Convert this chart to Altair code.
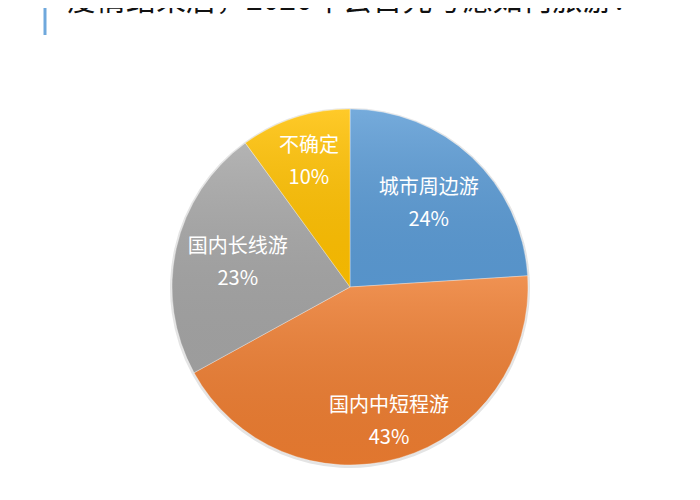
import altair as alt
import pandas as pd

title_text = "疫情结束后，2020年会首先考虑如何旅游?"
categories = ["城市周边游", "国内中短程游", "国内长线游", "不确定"]
values = [24, 43, 23, 10]
colors = ["#5B9BD5", "#ED7D31", "#A5A5A5", "#FFC000"]

df = pd.DataFrame({"cat": categories, "value": values, "idx": list(range(len(categories)))})

CX, CY, R = 342, 279, 178
FONT = "Noto Sans CJK SC"

theta_scale = alt.Scale(domain=[0, 100])

base = alt.Chart(df).transform_window(
    cum="sum(value)", sort=[alt.SortField("idx")]
).transform_calculate(
    start="datum.cum - datum.value",
    mid="datum.cum - datum.value / 2",
)

shadow = base.mark_arc(radius=R + 2, fill="#e4e4e4").encode(
    theta=alt.Theta("start:Q", scale=theta_scale), theta2="cum:Q",
    x=alt.value(CX), y=alt.value(CY + 1),
)

pie = base.mark_arc(radius=R, stroke="#ffffff", strokeWidth=0.6, strokeOpacity=0.6).encode(
    theta=alt.Theta("start:Q", scale=theta_scale), theta2="cum:Q",
    x=alt.value(CX), y=alt.value(CY),
    color=alt.Color("cat:N", scale=alt.Scale(domain=categories, range=colors), legend=None),
)

overlay = base.mark_arc(
    radius=R,
    fill={
        "gradient": "linear", "x1": 0, "y1": 0, "x2": 0, "y2": 1,
        "stops": [
            {"offset": 0, "color": "rgba(255,255,255,0.16)"},
            {"offset": 1, "color": "rgba(0,0,0,0.05)"},
        ],
    },
).encode(
    theta=alt.Theta("start:Q", scale=theta_scale), theta2="cum:Q",
    x=alt.value(CX), y=alt.value(CY),
)

labels = base.transform_calculate(
    label="datum.cat + '\\n' + datum.value + '%'",
    lr="datum.value >= 40 ? 140 : (datum.value <= 12 ? 133 : 115)",
).mark_text(
    font=FONT, fontSize=20, color="white", lineBreak="\n", lineHeight=32,
    align="center", baseline="middle", dy=-15,
).encode(
    theta=alt.Theta("mid:Q", scale=theta_scale),
    x=alt.value(CX), y=alt.value(CY),
    radius=alt.Radius("lr:Q", scale=None),
    text="label:N",
)

title_df = pd.DataFrame({"t": [title_text]})
title = alt.Chart(title_df).mark_text(
    font=FONT, fontSize=30, color="#111111", align="left", baseline="alphabetic"
).encode(x=alt.value(58), y=alt.value(2), text="t:N")

bar = alt.Chart(title_df).mark_rule(color="#6FA8DC", strokeWidth=3).encode(
    x=alt.value(37), y=alt.value(-10), y2=alt.value(27)
)

chart = alt.layer(shadow, pie, overlay, labels, title, bar).properties(
    width=684, height=484, padding=0, background="white",
    autosize=alt.AutoSizeParams(type="none"),
).configure_view(stroke=None)

chart.save("out.html", embed_options={"renderer": "svg", "actions": False})
